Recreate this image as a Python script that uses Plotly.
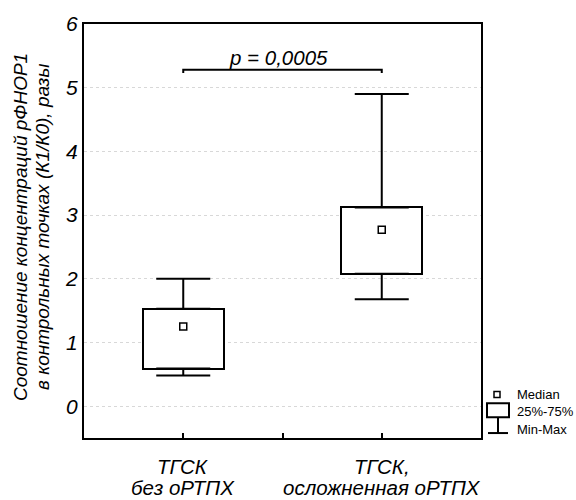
import plotly.graph_objects as go

# ---- data ----
categories = [1, 2]
cat_line1 = ["ТГСК", "ТГСК,"]
cat_line2 = ["без оРТПХ", "осложненная оРТПХ"]
q_min = [0.48, 1.68]
q1 = [0.59, 2.08]
median = [1.25, 2.77]
q3 = [1.53, 3.12]
q_max = [2.0, 4.9]
p_text = "p = 0,0005"
bracket_x = [1, 1, 2, 2]
bracket_y = [5.23, 5.28, 5.28, 5.23]
y_ticks = [0, 1, 2, 3, 4, 5, 6]
y_title = ["Соотношение концентраций рФНОР1", "в контрольных точках (К1/К0), разы"]
legend_labels = ["Median", "25%-75%", "Min-Max"]

FONT = "Arial, Liberation Sans, sans-serif"
fig = go.Figure()

# upper whiskers
fig.add_trace(go.Scatter(
    x=categories, y=q_max, mode="markers",
    marker=dict(size=1, color="rgba(0,0,0,0)"),
    error_y=dict(type="data", symmetric=False, array=[0, 0],
                 arrayminus=[a - b for a, b in zip(q_max, q3)],
                 width=27, thickness=2, color="black"),
    showlegend=False, hoverinfo="skip"))
# lower whiskers
fig.add_trace(go.Scatter(
    x=categories, y=q_min, mode="markers",
    marker=dict(size=1, color="rgba(0,0,0,0)"),
    error_y=dict(type="data", symmetric=False,
                 array=[a - b for a, b in zip(q1, q_min)],
                 arrayminus=[0, 0],
                 width=27, thickness=2, color="black"),
    showlegend=False, hoverinfo="skip"))
# boxes
fig.add_trace(go.Bar(
    x=categories, y=[a - b for a, b in zip(q3, q1)], base=q1,
    width=0.41, marker=dict(color="white", line=dict(color="black", width=2)),
    showlegend=False, hoverinfo="skip"))
# medians
fig.add_trace(go.Scatter(
    x=categories, y=median, mode="markers",
    marker=dict(symbol="square-open", size=7, color="black", line=dict(width=1.5)),
    showlegend=False, hoverinfo="skip"))
# significance bracket
fig.add_trace(go.Scatter(
    x=bracket_x, y=bracket_y, mode="lines",
    line=dict(color="black", width=2),
    showlegend=False, hoverinfo="skip"))
fig.add_annotation(x=1.48, y=5.48, xref="x", yref="y", text=p_text,
                   showarrow=False, yanchor="middle",
                   font=dict(family=FONT, size=20.5, color="black", style="italic"))

W, H = 576, 500
L, R, T, B = 84, 95, 20, 62
pw, ph = W - L - R, H - T - B
def px(x): return (x - L) / pw
def py(y): return 1 - (y - T) / ph

# y-axis title (two lines)
for txt, xc in zip(y_title, [20, 42]):
    fig.add_annotation(x=0, y=py(225), xref="paper", yref="paper", xshift=xc - L,
                       xanchor="center", yanchor="middle",
                       text=txt, textangle=-90, showarrow=False,
                       font=dict(family=FONT, size=19, color="black", style="italic"))

# category labels (two lines each)
for cx, t1, t2 in zip(categories, cat_line1, cat_line2):
    fig.add_annotation(x=cx, y=0, xref="x", yref="paper", yshift=-(466 - (H - B)),
                       xanchor="center", yanchor="middle", text=t1, showarrow=False,
                       font=dict(family=FONT, size=20.5, color="black", style="italic"))
    fig.add_annotation(x=cx, y=0, xref="x", yref="paper", yshift=-(487 - (H - B)),
                       xanchor="center", yanchor="middle", text=t2, showarrow=False,
                       font=dict(family=FONT, size=20.5, color="black", style="italic"))

# custom legend
shapes = []
shapes.append(dict(type="rect", xref="paper", yref="paper",
                   x0=px(494), x1=px(500), y0=py(391), y1=py(397),
                   line=dict(color="black", width=1.5)))
shapes.append(dict(type="rect", xref="paper", yref="paper",
                   x0=px(487), x1=px(509), y0=py(403), y1=py(417),
                   line=dict(color="black", width=2)))
shapes.append(dict(type="line", xref="paper", yref="paper",
                   x0=px(498), x1=px(498), y0=py(417), y1=py(433),
                   line=dict(color="black", width=2)))
shapes.append(dict(type="line", xref="paper", yref="paper",
                   x0=px(488), x1=px(508), y0=py(433), y1=py(433),
                   line=dict(color="black", width=2)))
fig.update_layout(shapes=shapes)
for txt, yy in zip(legend_labels, [394, 411, 429]):
    fig.add_annotation(x=px(515), y=py(yy), xref="paper", yref="paper", text=txt,
                       xanchor="left", yanchor="middle", showarrow=False,
                       font=dict(family=FONT, size=13, color="black"))

fig.update_layout(
    width=W, height=H,
    margin=dict(l=L, r=R, t=T, b=B),
    paper_bgcolor="white", plot_bgcolor="white",
    font=dict(family=FONT, color="black"),
    xaxis=dict(range=[0.5, 2.5], tickvals=[1, 1.5, 2], ticktext=["", "", ""],
               ticks="inside", ticklen=5, tickwidth=1.5, tickcolor="black",
               showline=True, linecolor="black", linewidth=2, mirror=True,
               showgrid=False, zeroline=False),
    yaxis=dict(range=[-0.5, 6], tickvals=y_ticks,
               showline=True, linecolor="black", linewidth=2, mirror=True,
               showgrid=True, gridcolor="#d8d8d8", griddash="dot", gridwidth=1,
               zeroline=False, ticks="",
               tickfont=dict(family=FONT, size=21, color="black", style="italic")),
    bargap=0,
)
fig.write_html("out.html")
